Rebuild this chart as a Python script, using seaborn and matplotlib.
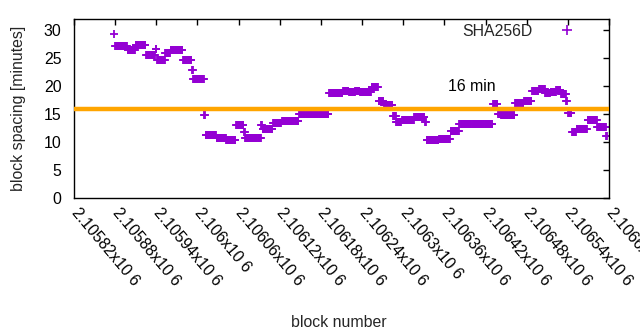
import numpy as np
import pandas as pd
import matplotlib
matplotlib.use("Agg")
import matplotlib.pyplot as plt
import seaborn as sns

# Plateau segments (block offsets from 2105820, value in minutes)
seg_start = [58, 60, 78, 90, 105, 119, 121, 133, 141, 159, 172, 174, 190, 192, 208, 222,
             236, 248, 250, 273, 275, 290, 303, 328, 372, 392, 401, 410, 417, 434, 444,
             452, 465, 470, 478, 496, 512, 514, 532, 549, 562, 611, 618, 623, 643, 656,
             668, 678, 687, 695, 703, 710, 718, 720, 726, 733, 749, 763, 776]
seg_end = [59, 78, 90, 105, 119, 121, 133, 141, 159, 172, 174, 190, 192, 208, 222, 236,
           248, 250, 273, 275, 290, 303, 328, 372, 392, 401, 410, 417, 434, 444, 452,
           465, 470, 478, 496, 512, 514, 532, 549, 562, 611, 618, 623, 643, 656, 668,
           678, 687, 695, 703, 710, 718, 720, 726, 733, 749, 763, 776, 778]
seg_value = [29.4, 27.1, 26.5, 27.4, 25.5, 26.7, 24.6, 26.0, 26.4, 24.6, 22.9, 21.2, 14.9,
             11.2, 10.8, 10.4, 13.0, 11.8, 10.8, 13.0, 12.4, 13.4, 13.7, 15.1, 18.7, 19.2,
             18.9, 19.2, 18.9, 19.8, 17.3, 16.7, 14.6, 13.5, 13.9, 14.5, 13.6, 10.4, 10.5,
             12.0, 13.3, 16.8, 15.1, 14.9, 17.0, 17.4, 19.2, 19.4, 18.7, 18.9, 19.3, 18.6,
             17.4, 15.2, 11.8, 12.4, 13.9, 12.7, 11.1]
base_block = 2105820
x_ticks = list(range(2105820, 2106601, 60))
y_ticks = [0, 5, 10, 15, 20, 25, 30]
target_minutes = 16

blocks, values = [], []
for s, e, v in zip(seg_start, seg_end, seg_value):
    for b in range(s, e):
        blocks.append(base_block + b)
        values.append(v)
df = pd.DataFrame({"block": blocks, "spacing": values})

sns.set_style("white")
plt.rcParams["font.family"] = ["Liberation Sans", "DejaVu Sans"]
FS = 11.4
PURPLE = "#9400D3"

fig = plt.figure(figsize=(6.4, 3.3), dpi=100)
ax = fig.add_axes([74 / 640, 1 - 198 / 330, (609 - 74) / 640, (198 - 19) / 330])

sns.scatterplot(data=df, x="block", y="spacing", marker="+", s=40, linewidth=1.3,
                color=PURPLE, ax=ax, legend=False, zorder=2)
ax.axhline(target_minutes, color="#FFA500", lw=3.2, zorder=3)
ax.text(2106365, 20.0, "16 min", fontsize=FS, va="center", ha="left", color="black")

ax.set_xlim(2105820, 2106600)
ax.set_ylim(0, 32)
ax.set_yticks(y_ticks)
ax.set_xticks(x_ticks)
ax.set_xticklabels([f"{t / 1e6:g}x10 6" for t in x_ticks], rotation=-50,
                   rotation_mode="anchor", ha="left", va="center", fontsize=FS)
ax.tick_params(axis="both", direction="in", length=4, width=1, colors="black",
               top=True, right=True, labelsize=FS)
ax.tick_params(axis="y", pad=9)
ax.tick_params(axis="x", pad=9)
for sp in ax.spines.values():
    sp.set_visible(True)
    sp.set_linewidth(1.0)
    sp.set_color("black")

ax.set_xlabel("block number", fontsize=FS)
ax.set_ylabel("block spacing [minutes]", fontsize=FS)
ax.yaxis.set_label_coords((26 - 74) / 535, 0.5)
ax.xaxis.set_label_coords((339 - 74) / 535, -(315 - 198) / 179)

handle = plt.Line2D([], [], marker="+", color=PURPLE, linestyle="none",
                    markersize=7, markeredgewidth=1.2)
ax.legend([handle], ["SHA256D"], loc="center right", frameon=False, markerfirst=False,
          fontsize=FS, bbox_to_anchor=((589 - 74) / 535, (198 - 31.5) / 179),
          borderaxespad=0, handlelength=2.0, handletextpad=1.14)

fig.savefig("out.png", dpi=100)
